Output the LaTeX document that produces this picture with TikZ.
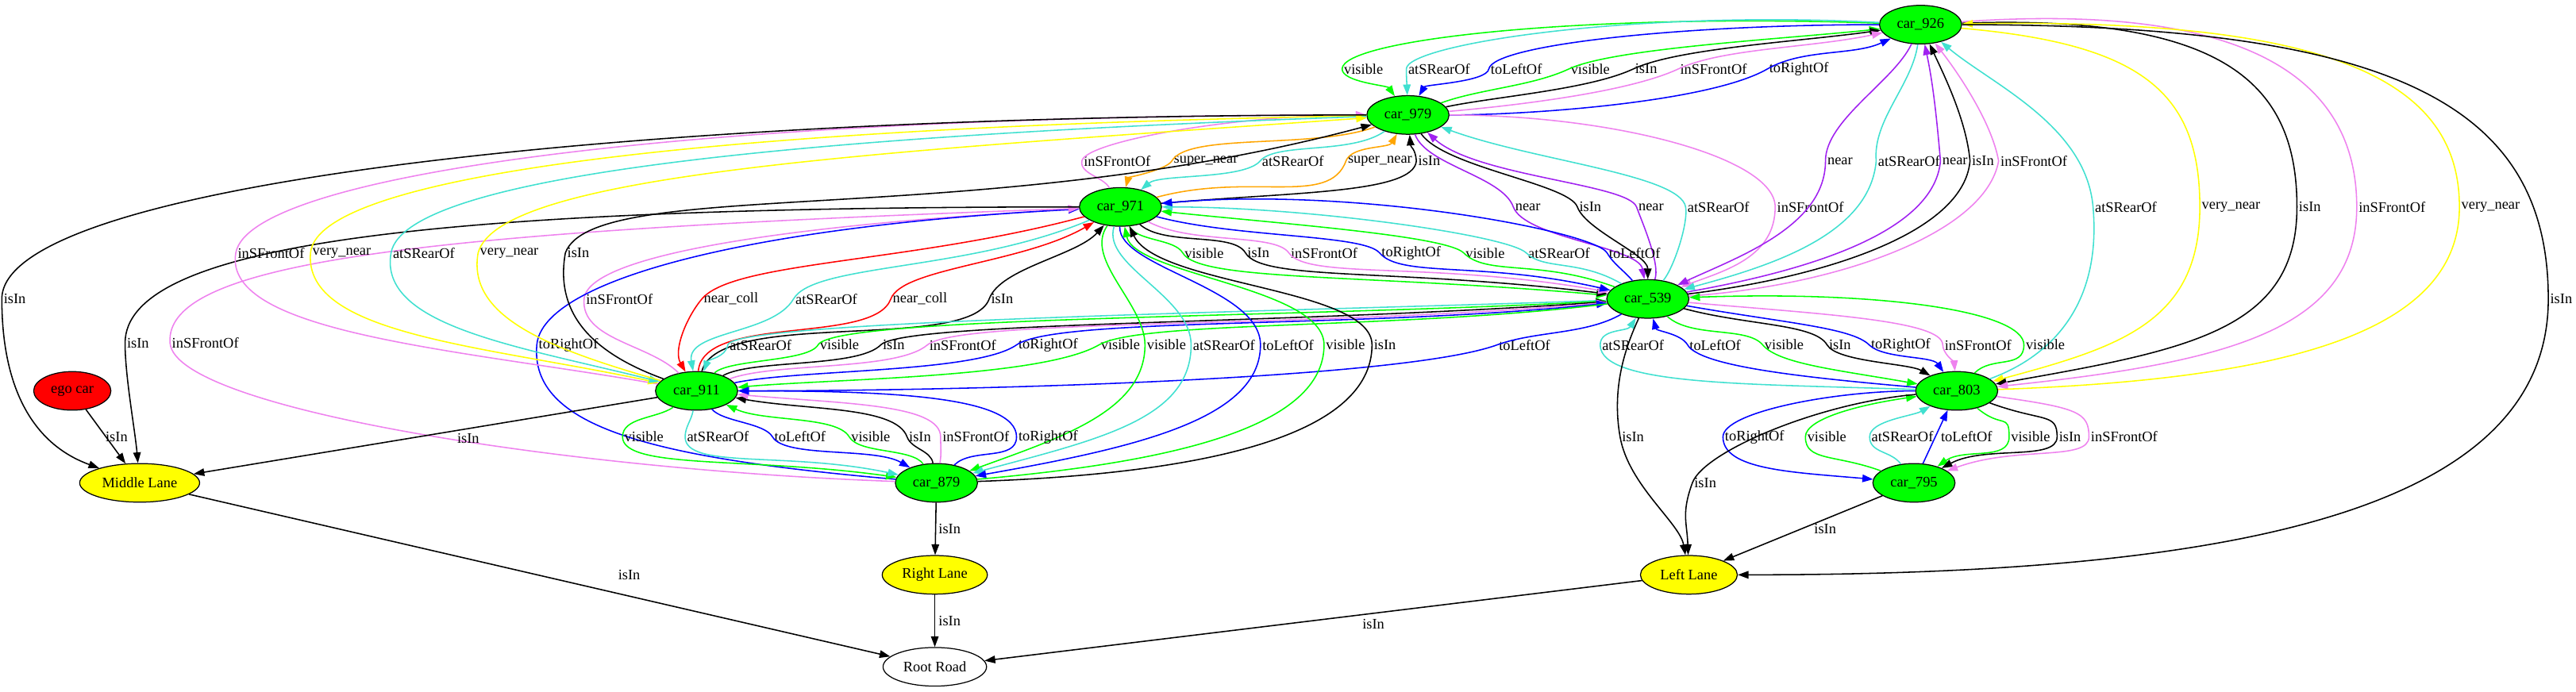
\documentclass[tikz,border=0pt]{standalone}
\usepackage{fontspec}
\setmainfont{Liberation Serif}
\usetikzlibrary{shapes.geometric,arrows.meta}
\definecolor{gvgreen}{HTML}{00FF00}
\definecolor{turq}{HTML}{40E0D0}
\definecolor{gvblue}{HTML}{0000FF}
\definecolor{viol}{HTML}{EE82EE}
\definecolor{purp}{HTML}{A020F0}
\definecolor{gvyellow}{HTML}{FFFF00}
\definecolor{gvorange}{HTML}{FFA500}
\definecolor{gvred}{HTML}{FF0000}
\tikzset{
  lbl/.style={font=\fontsize{8.9}{10}\selectfont, inner sep=1pt},
  e/.style={line width=0.75pt},
  fwd/.style={-{Triangle[length=6.5pt,width=4.6pt]}},
  bwd/.style={{Triangle[length=6.5pt,width=4.6pt]}-},
  cv/.style n args={4}{out=#1,in=#2,out distance=#3pt,in distance=#4pt},
  nd/.style={ellipse,draw,line width=0.6pt,inner sep=0pt,minimum height=23.5pt,font=\fontsize{8.9}{10}\selectfont},
  car/.style={nd,fill=gvgreen,minimum width=50pt},
}
\newcommand\gvedge[7]{\node[lbl] (lb) at #5 {#4};\draw[e,#1] (#2) to[#3] (lb.west) to[#6] (#7);}
\begin{document}
\begin{tikzpicture}[x=1pt,y=1pt]
\useasboundingbox (0,0) rectangle (1568,-421);
% nodes
\node[car] (n926) at (1169,-15) {car\_926};
\node[car] (n979) at (857,-70) {car\_979};
\node[car] (n971) at (682,-126) {car\_971};
\node[car] (n539) at (1003,-182) {car\_539};
\node[car] (n911) at (424,-238) {car\_911};
\node[car] (n803) at (1191,-238) {car\_803};
\node[nd,fill=gvred,minimum width=47pt] (ego) at (44,-238) {ego car};
\node[nd,fill=gvyellow,minimum width=73pt] (mid) at (85,-294) {Middle Lane};
\node[car] (n879) at (570,-294) {car\_879};
\node[car] (n795) at (1165,-294) {car\_795};
\node[nd,fill=gvyellow,minimum width=64pt] (rl) at (569,-350) {Right Lane};
\node[nd,fill=gvyellow,minimum width=59pt] (ll) at (1028,-350) {Left Lane};
\node[nd,fill=white,minimum width=63pt] (root) at (569,-406) {Root Road};
% A: 926 - 979
\gvedge{gvgreen,fwd}{n926}{cv={178}{90}{180}{18}}{visible}{(830,-42)}{cv={-90}{125}{8}{8}}{n979}
\gvedge{turq,fwd}{n926}{cv={177}{90}{150}{15}}{atSRearOf}{(876,-42)}{cv={-90}{92}{5}{5}}{n979}
\gvedge{gvblue,fwd}{n926}{cv={180}{80}{120}{15}}{toLeftOf}{(923,-42)}{cv={-100}{60}{8}{8}}{n979}
\gvedge{gvgreen,bwd}{n926}{cv={186}{25}{60}{30}}{visible}{(968,-42)}{cv={-155}{20}{25}{25}}{n979}
\gvedge{black,bwd}{n926}{cv={188}{25}{50}{30}}{isIn}{(1002,-42)}{cv={-155}{12}{30}{30}}{n979}
\gvedge{viol,bwd}{n926}{cv={192}{25}{45}{30}}{inSFrontOf}{(1043,-42)}{cv={-155}{5}{35}{35}}{n979}
\gvedge{gvblue,bwd}{n926}{cv={205}{30}{25}{25}}{toRightOf}{(1095,-42)}{cv={-150}{0}{40}{50}}{n979}
% B: 979 - 971
\gvedge{viol,bwd}{n979}{cv={180}{80}{80}{12}}{inSFrontOf}{(680,-98)}{cv={-100}{120}{8}{8}}{n971}
\gvedge{gvorange,fwd}{n979}{cv={200}{60}{40}{20}}{super\_near}{(734,-98)}{cv={-120}{75}{6}{6}}{n971}
\gvedge{turq,fwd}{n979}{cv={215}{50}{25}{15}}{atSRearOf}{(787,-98)}{cv={-130}{40}{15}{15}}{n971}
\gvedge{gvorange,bwd}{n979}{cv={240}{70}{10}{10}}{super\_near}{(840,-98)}{cv={-110}{15}{30}{60}}{n971}
\gvedge{black,bwd}{n979}{cv={275}{95}{8}{8}}{isIn}{(870,-98)}{cv={-95}{5}{20}{80}}{n971}
% C: 979 - 539
\gvedge{purp,fwd}{n979}{cv={290}{110}{20}{20}}{near}{(930,-126)}{cv={-70}{100}{20}{20}}{n539}
\gvedge{black,fwd}{n979}{cv={305}{110}{25}{15}}{isIn}{(968,-126)}{cv={-70}{90}{15}{15}}{n539}
\gvedge{purp,bwd}{n979}{cv={318}{110}{40}{15}}{near}{(1005,-126)}{cv={-70}{70}{10}{10}}{n539}
\gvedge{turq,bwd}{n979}{cv={340}{100}{60}{20}}{atSRearOf}{(1046,-126)}{cv={-80}{50}{10}{10}}{n539}
\gvedge{viol,fwd}{n979}{cv={0}{90}{100}{30}}{inSFrontOf}{(1102,-126)}{cv={-90}{20}{30}{30}}{n539}
% D: 926 - 539
\gvedge{purp,fwd}{n926}{cv={245}{90}{25}{25}}{near}{(1120,-98)}{cv={-90}{25}{40}{40}}{n539}
\gvedge{turq,fwd}{n926}{cv={262}{95}{25}{25}}{atSRearOf}{(1162,-98)}{cv={-95}{15}{45}{55}}{n539}
\gvedge{purp,bwd}{n926}{cv={282}{95}{25}{25}}{near}{(1190,-98)}{cv={-95}{10}{45}{70}}{n539}
\gvedge{black,bwd}{n926}{cv={295}{95}{20}{25}}{isIn}{(1207,-98)}{cv={-95}{7}{45}{80}}{n539}
\gvedge{viol,bwd}{n926}{cv={308}{100}{20}{25}}{inSFrontOf}{(1238,-98)}{cv={-100}{4}{45}{90}}{n539}
% E: 926 - 803, 926 - Left Lane
\gvedge{turq,bwd}{n926}{cv={320}{95}{40}{50}}{atSRearOf}{(1294,-126)}{cv={-85}{20}{60}{40}}{n803}
\gvedge{gvyellow,fwd}{n926}{cv={355}{90}{110}{70}}{very\_near}{(1358,-126)}{cv={-90}{15}{70}{80}}{n803}
\gvedge{black,fwd}{n926}{cv={2}{90}{160}{75}}{isIn}{(1406,-126)}{cv={-90}{10}{75}{120}}{n803}
\gvedge{viol,fwd}{n926}{cv={4}{90}{180}{75}}{inSFrontOf}{(1456,-126)}{cv={-90}{6}{75}{140}}{n803}
\gvedge{gvyellow,bwd}{n926}{cv={1}{90}{230}{75}}{very\_near}{(1516,-126)}{cv={-90}{2}{75}{180}}{n803}
\gvedge{black,fwd}{n926}{cv={0}{90}{260}{120}}{isIn}{(1559,-182)}{cv={-90}{0}{130}{300}}{ll}
% F: 971 - 539
\gvedge{gvgreen,fwd}{n971}{cv={295}{120}{10}{10}}{visible}{(733,-154)}{cv={-60}{175}{20}{150}}{n539}
\gvedge{black,fwd}{n971}{cv={318}{120}{20}{15}}{isIn}{(766,-154)}{cv={-60}{173}{20}{130}}{n539}
\gvedge{viol,fwd}{n971}{cv={332}{125}{30}{15}}{inSFrontOf}{(806,-154)}{cv={-55}{170}{20}{110}}{n539}
\gvedge{gvblue,fwd}{n971}{cv={345}{130}{50}{15}}{toRightOf}{(859,-154)}{cv={-50}{167}{20}{80}}{n539}
\gvedge{gvgreen,bwd}{n971}{cv={354}{135}{70}{15}}{visible}{(904,-154)}{cv={-45}{160}{20}{50}}{n539}
\gvedge{turq,bwd}{n971}{cv={0}{135}{90}{15}}{atSRearOf}{(949,-154)}{cv={-45}{150}{15}{30}}{n539}
\gvedge{gvblue,bwd}{n971}{cv={5}{120}{120}{15}}{toLeftOf}{(995,-154)}{cv={-60}{130}{8}{8}}{n539}
% G: 971 - 911
\gvedge{viol,bwd}{n971}{cv={183}{85}{150}{30}}{inSFrontOf}{(377,-182)}{cv={-95}{135}{25}{25}}{n911}
\gvedge{gvred,fwd}{n971}{cv={195}{50}{110}{30}}{near\_coll}{(445,-182)}{cv={-130}{120}{15}{15}}{n911}
\gvedge{turq,fwd}{n971}{cv={203}{60}{80}{25}}{atSRearOf}{(503,-182)}{cv={-120}{100}{25}{25}}{n911}
\gvedge{gvred,bwd}{n971}{cv={210}{70}{50}{20}}{near\_coll}{(560,-182)}{cv={-110}{85}{30}{35}}{n911}
\gvedge{black,bwd}{n971}{cv={228}{70}{25}{20}}{isIn}{(610,-182)}{cv={-110}{75}{35}{40}}{n911}
% H: 539 - 911
\gvedge{turq,fwd}{n539}{cv={182}{80}{200}{15}}{atSRearOf}{(463,-210)}{cv={-100}{70}{8}{8}}{n911}
\gvedge{gvgreen,bwd}{n539}{cv={183}{60}{200}{20}}{visible}{(511,-210)}{cv={-120}{45}{12}{12}}{n911}
\gvedge{black,bwd}{n539}{cv={184}{45}{200}{20}}{isIn}{(544,-210)}{cv={-135}{30}{20}{20}}{n911}
\gvedge{viol,bwd}{n539}{cv={185}{40}{180}{25}}{inSFrontOf}{(586,-210)}{cv={-140}{20}{25}{30}}{n911}
\gvedge{gvblue,bwd}{n539}{cv={186}{35}{150}{30}}{toRightOf}{(638,-210)}{cv={-145}{12}{30}{40}}{n911}
\gvedge{gvgreen,fwd}{n539}{cv={187}{30}{130}{30}}{visible}{(682,-210)}{cv={-150}{5}{40}{60}}{n911}
\gvedge{gvblue,fwd}{n539}{cv={210}{20}{25}{25}}{toLeftOf}{(928,-210)}{cv={-160}{0}{60}{150}}{n911}
% I: 971 - 879, 971 - Middle Lane
\gvedge{gvgreen,fwd}{n971}{cv={235}{90}{25}{25}}{visible}{(710,-210)}{cv={-90}{20}{40}{60}}{n879}
\gvedge{turq,fwd}{n971}{cv={252}{90}{25}{30}}{atSRearOf}{(745,-210)}{cv={-90}{15}{45}{80}}{n879}
\gvedge{gvblue,fwd}{n971}{cv={268}{90}{25}{35}}{toLeftOf}{(784,-210)}{cv={-90}{10}{45}{100}}{n879}
\gvedge{gvgreen,bwd}{n971}{cv={282}{90}{30}{35}}{visible}{(819,-210)}{cv={-90}{5}{50}{120}}{n879}
\gvedge{black,bwd}{n971}{cv={295}{90}{40}{35}}{isIn}{(843,-210)}{cv={-90}{2}{55}{140}}{n879}
\gvedge{gvblue,bwd}{n971}{cv={183}{85}{200}{40}}{toRightOf}{(346,-210)}{cv={-95}{175}{50}{150}}{n879}
\gvedge{viol,bwd}{n971}{cv={182}{95}{400}{50}}{inSFrontOf}{(125,-209)}{cv={-85}{178}{40}{200}}{n879}
\gvedge{black,fwd}{n971}{cv={180}{90}{400}{60}}{isIn}{(84,-209)}{cv={-90}{95}{20}{20}}{mid}
% J: 979 - 911, 979 - Middle Lane
\gvedge{viol,bwd}{n979}{cv={180}{80}{400}{50}}{inSFrontOf}{(165,-154)}{cv={-100}{170}{50}{120}}{n911}
\gvedge{gvyellow,fwd}{n979}{cv={181}{85}{380}{50}}{very\_near}{(208,-154)}{cv={-95}{168}{50}{110}}{n911}
\gvedge{turq,fwd}{n979}{cv={182}{80}{330}{50}}{atSRearOf}{(258,-154)}{cv={-100}{166}{45}{90}}{n911}
\gvedge{gvyellow,bwd}{n979}{cv={184}{75}{300}{50}}{very\_near}{(310,-154)}{cv={-100}{164}{40}{70}}{n911}
\gvedge{black,bwd}{n979}{cv={195}{70}{250}{50}}{isIn}{(352,-154)}{cv={-100}{160}{35}{50}}{n911}
\gvedge{black,fwd}{n979}{cv={180}{90}{450}{70}}{isIn}{(9,-182)}{cv={-90}{160}{75}{25}}{mid}
% K: 911 - 879
\gvedge{gvgreen,fwd}{n911}{cv={215}{90}{12}{12}}{visible}{(392,-266)}{cv={-90}{172}{20}{90}}{n879}
\gvedge{turq,fwd}{n911}{cv={260}{90}{6}{6}}{atSRearOf}{(437,-266)}{cv={-90}{168}{20}{70}}{n879}
\gvedge{gvblue,fwd}{n911}{cv={310}{120}{10}{10}}{toLeftOf}{(487,-266)}{cv={-60}{150}{15}{25}}{n879}
\gvedge{gvgreen,bwd}{n911}{cv={335}{120}{25}{15}}{visible}{(530,-266)}{cv={-60}{125}{12}{12}}{n879}
\gvedge{black,bwd}{n911}{cv={350}{110}{45}{20}}{isIn}{(560,-266)}{cv={-70}{100}{8}{8}}{n879}
\gvedge{viol,bwd}{n911}{cv={355}{90}{65}{20}}{inSFrontOf}{(594,-266)}{cv={-90}{80}{6}{6}}{n879}
\gvedge{gvblue,bwd}{n911}{cv={0}{90}{90}{25}}{toRightOf}{(638,-266)}{cv={-90}{45}{15}{15}}{n879}
% L: 539 - 803
\gvedge{turq,bwd}{n539}{cv={238}{90}{10}{10}}{atSRearOf}{(994,-210)}{cv={-90}{178}{25}{100}}{n803}
\gvedge{gvblue,bwd}{n539}{cv={285}{120}{8}{8}}{toLeftOf}{(1044,-210)}{cv={-60}{175}{15}{70}}{n803}
\gvedge{gvgreen,fwd}{n539}{cv={318}{130}{20}{15}}{visible}{(1086,-210)}{cv={-50}{170}{15}{50}}{n803}
\gvedge{black,fwd}{n539}{cv={345}{120}{40}{15}}{isIn}{(1120,-210)}{cv={-60}{150}{12}{15}}{n803}
\gvedge{gvblue,fwd}{n539}{cv={350}{135}{60}{15}}{toRightOf}{(1157,-210)}{cv={-45}{125}{12}{12}}{n803}
\gvedge{viol,fwd}{n539}{cv={355}{90}{80}{15}}{inSFrontOf}{(1204,-210)}{cv={-90}{95}{5}{5}}{n803}
\gvedge{gvgreen,bwd}{n539}{cv={2}{90}{120}{20}}{visible}{(1245,-210)}{cv={-90}{45}{15}{15}}{n803}
% M: 803 - 795
\gvedge{gvblue,fwd}{n803}{cv={180}{90}{50}{15}}{toRightOf}{(1068,-266)}{cv={-90}{175}{20}{50}}{n795}
\gvedge{gvgreen,bwd}{n803}{cv={188}{90}{30}{12}}{visible}{(1112,-266)}{cv={-90}{160}{15}{30}}{n795}
\gvedge{turq,bwd}{n803}{cv={210}{90}{12}{10}}{atSRearOf}{(1158,-266)}{cv={-90}{125}{10}{10}}{n795}
\draw[e,gvblue,fwd] (n795) -- (n803);
\node[lbl] (lbm) at (1197,-266) {toLeftOf};
\gvedge{gvgreen,fwd}{n803}{cv={320}{90}{20}{15}}{visible}{(1236,-266)}{cv={-90}{35}{15}{20}}{n795}
\gvedge{black,fwd}{n803}{cv={340}{90}{35}{15}}{isIn}{(1260,-266)}{cv={-90}{28}{15}{30}}{n795}
\gvedge{viol,fwd}{n803}{cv={352}{90}{50}{15}}{inSFrontOf}{(1293,-266)}{cv={-90}{20}{15}{45}}{n795}
% N: lanes and road
\draw[e,fwd] (ego) -- (mid);
\node[lbl] (l1) at (71,-266) {isIn};
\draw[e,fwd] (n911) -- (mid);
\node[lbl] (l2) at (285,-267) {isIn};
\draw[e,fwd] (n879) -- (rl);
\node[lbl] (l3) at (578,-322) {isIn};
\draw[e,fwd] (rl) -- (root);
\node[lbl] (l4) at (578,-378) {isIn};
\draw[e,fwd] (mid) -- (root);
\node[lbl] (l5) at (383,-350) {isIn};
\draw[e,fwd] (ll) -- (root);
\node[lbl] (l6) at (836,-380) {isIn};
\draw[e,fwd] (n795) -- (ll);
\node[lbl] (l7) at (1111,-322) {isIn};
\gvedge{black,fwd}{n539}{cv={245}{100}{20}{30}}{isIn}{(994,-266)}{cv={-80}{100}{30}{20}}{ll}
\gvedge{black,fwd}{n803}{cv={185}{70}{60}{20}}{isIn}{(1038,-294)}{cv={-110}{92}{20}{20}}{ll}
\end{tikzpicture}
\end{document}
